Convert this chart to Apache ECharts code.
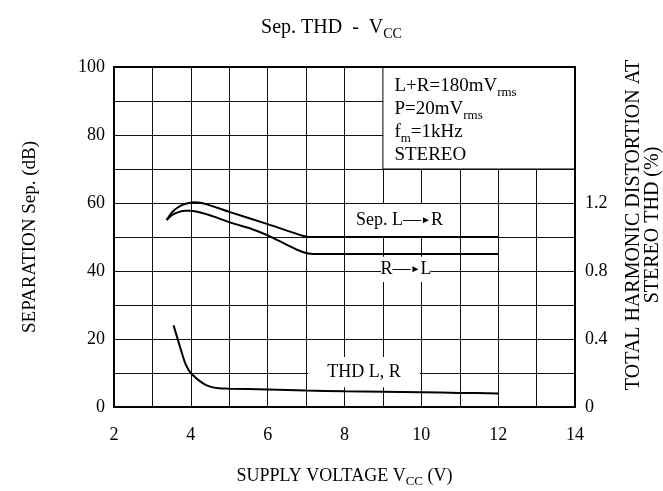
<!DOCTYPE html>
<html>
<head>
<meta charset="utf-8">
<script src="https://cdn.jsdelivr.net/npm/echarts@6/dist/echarts.min.js"></script>
<style>html,body{margin:0;padding:0;background:#fff}#c{width:663px;height:491px}</style>
</head>
<body>
<div id="c"></div>
<script>
// ---- data ----
const voltLR = [3.37, 3.45, 3.55, 3.65, 3.8, 3.95, 4.1, 4.25, 5.0, 6.0, 6.9, 7.05, 8, 9, 10, 11, 12];
const sepLR  = [55.0, 56.4, 57.7, 58.6, 59.5, 60.0, 60.2, 60.1, 57.4, 53.8, 50.4, 50.0, 50, 50, 50, 50, 50];
const voltRL = [3.37, 3.45, 3.55, 3.7, 3.85, 4.0, 4.25, 4.6, 5.1, 5.6, 6.0, 6.5, 6.8, 7.0, 7.2, 8, 9, 10, 11, 12];
const sepRL  = [55.0, 55.9, 56.7, 57.4, 57.7, 57.7, 57.2, 56.0, 54.0, 52.3, 50.5, 47.7, 46.1, 45.3, 45.0, 45, 45, 45, 45, 45];
const voltTHD = [3.55, 3.65, 3.75, 3.85, 3.95, 4.05, 4.2, 4.35, 4.5, 4.72, 5.0, 6, 7, 8, 9, 10, 11, 12];
const thd     = [0.48, 0.405, 0.33, 0.26, 0.215, 0.188, 0.158, 0.135, 0.12, 0.11, 0.108, 0.103, 0.097, 0.093, 0.09, 0.087, 0.083, 0.08];
const xTicks = [2, 4, 6, 8, 10, 12, 14];
const yLeftTicks = [0, 20, 40, 60, 80, 100];
const yRightTicks = [0, 0.4, 0.8, 1.2];

const FONT = 'Liberation Serif';
const FS = 18;
const pair = (xs, ys) => xs.map((x, i) => [x, ys[i]]);
const chart = echarts.init(document.getElementById('c'), null, {renderer: 'canvas'});

const sub = {
  n: {fontFamily: FONT, fontSize: FS, color: '#000', verticalAlign: 'bottom', padding: [0, 0, 3, 0]},
  s: {fontFamily: FONT, fontSize: 13, color: '#000', verticalAlign: 'bottom', padding: [0, 0, 0, 0]},
  a: {fontFamily: FONT, fontSize: 10, color: '#000'}
};
const boxRich = {
  n: {fontFamily: FONT, fontSize: 19, color: '#000', verticalAlign: 'bottom', lineHeight: 23, padding: [0, 0, 4, 0]},
  s: {fontFamily: FONT, fontSize: 13, color: '#000', verticalAlign: 'bottom', lineHeight: 23, padding: [0, 0, 0, 0]}
};

const lineStyle = {color: '#000', width: 2};
const gridLine = {show: true, lineStyle: {color: '#111', width: 1}};
const txt = {fontFamily: FONT, fontSize: FS, color: '#000'};

chart.setOption({
  animation: false,
  backgroundColor: '#fff',
  title: {
    text: '{n|Sep. THD  -  V}{s|CC}',
    left: 'center', top: 13,
    textStyle: {rich: {
      n: {fontFamily: FONT, fontSize: 20, fontWeight: 'normal', color: '#000', verticalAlign: 'bottom', padding: [0, 0, 3, 0]},
      s: {fontFamily: FONT, fontSize: 14, fontWeight: 'normal', color: '#000', verticalAlign: 'bottom'}
    }}
  },
  grid: {left: 114, right: 88, top: 67, bottom: 84, outerBoundsMode: 'none', containLabel: false},
  xAxis: [{
    type: 'value', min: 2, max: 14, interval: 1,
    axisLine: {show: true, lineStyle: {color: '#000', width: 2}},
    axisTick: {show: false},
    axisLabel: Object.assign({margin: 19, formatter: v => xTicks.includes(v) ? String(v) : ''}, txt),
    splitLine: gridLine,
    name: '{n|SUPPLY VOLTAGE V}{s|CC}{n| (V)}',
    nameLocation: 'middle', nameGap: 60,
    nameTextStyle: {rich: sub}
  }, {
    type: 'value', min: 2, max: 14, position: 'top', z: 5,
    axisLine: {show: true, onZero: false, lineStyle: {color: '#000', width: 2}},
    axisTick: {show: false}, axisLabel: {show: false}, splitLine: {show: false}
  }],
  yAxis: [{
    type: 'value', min: 0, max: 100, interval: 10,
    axisLine: {show: true, lineStyle: {color: '#000', width: 2}},
    axisTick: {show: false},
    axisLabel: Object.assign({margin: 9, formatter: v => yLeftTicks.includes(v) ? String(v) : ''}, txt),
    splitLine: gridLine,
    name: 'SEPARATION Sep. (dB)',
    nameLocation: 'middle', nameGap: 74, nameRotate: 90,
    nameTextStyle: Object.assign({}, txt, {fontSize: 19})
  }, {
    type: 'value', min: 0, max: 2, interval: 0.2, position: 'right', z: 5,
    axisLine: {show: true, onZero: false, lineStyle: {color: '#000', width: 2}},
    axisTick: {show: false},
    axisLabel: Object.assign({
      margin: 10,
      formatter: v => {
        const r = Math.round(v * 10) / 10;
        return yRightTicks.includes(r) && Math.abs(v - r) < 1e-6 ? (r === 0 ? '0' : r.toFixed(1)) : '';
      }
    }, txt),
    splitLine: {show: false},
    name: 'TOTAL HARMONIC DISTORTION AT\nSTEREO THD (%)',
    nameLocation: 'middle', nameGap: 49, nameRotate: 90,
    nameTextStyle: Object.assign({}, txt, {fontSize: 20, lineHeight: 19, align: 'center', padding: [0, 0, 0, 24]})
  }],
  series: [{
    type: 'line', data: [], z: 1, silent: true,
    markArea: {
      silent: true,
      data: [
        [{
          coord: [9, 70], itemStyle: {color: '#fff', borderColor: '#000', borderWidth: 1},
          label: {
            show: true, position: 'insideTopLeft', distance: 0, offset: [12, 10],
            formatter: '{n|L+R=180mV}{s|rms}\n{n|P=20mV}{s|rms}\n{n|f}{s|m}{n|=1kHz}\n{n|STEREO}',
            rich: boxRich
          }
        }, {coord: [14, 100]}],
        [{
          coord: [8.04, 50.3], itemStyle: {color: '#fff'},
          label: {show: true, position: 'insideLeft', distance: 10,
                  formatter: '{n|Sep. L\u2014}{a|\u25BA}{n|R}', rich: {n: txt, a: sub.a}}
        }, {coord: [10.96, 59.7]}],
        [{
          coord: [8.95, 36.8], itemStyle: {color: '#fff'},
          label: {show: true, position: 'inside',
                  formatter: '{n|R\u2014}{a|\u25BA}{n|L}', rich: {n: txt, a: sub.a}}
        }, {coord: [10.25, 44.2]}],
        [{
          coord: [7.05, 5.8], itemStyle: {color: '#fff'},
          label: Object.assign({show: true, position: 'inside', formatter: 'THD L, R'}, txt)
        }, {coord: [9.96, 14.7]}]
      ]
    }
  }, {
    name: 'Sep. L→R', type: 'line', z: 3, data: pair(voltLR, sepLR),
    showSymbol: false, smooth: 0.3, lineStyle
  }, {
    name: 'Sep. R→L', type: 'line', z: 3, data: pair(voltRL, sepRL),
    showSymbol: false, smooth: 0.3, lineStyle
  }, {
    name: 'THD L, R', type: 'line', z: 3, yAxisIndex: 1, data: pair(voltTHD, thd),
    showSymbol: false, smooth: 0.3, lineStyle
  }]
});
</script>
</body>
</html>
